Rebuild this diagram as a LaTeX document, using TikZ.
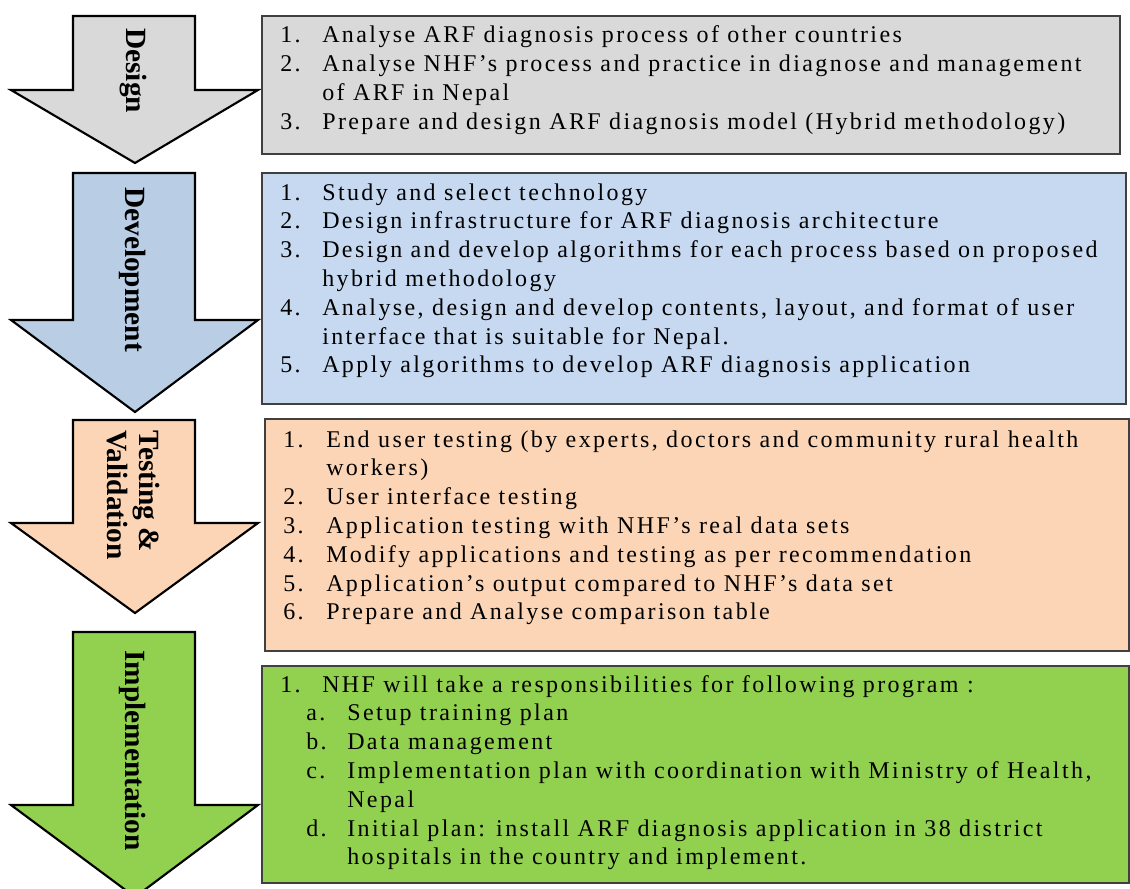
\documentclass[tikz,border=0pt]{standalone}
\usepackage{fontspec}
\setmainfont{Liberation Serif}[LetterSpace=10]
\newfontfamily\lblfont{Liberation Serif}
\usepackage{array}
\definecolor{dgray}{HTML}{D9D9D9}
\definecolor{dbluebox}{HTML}{C6D9F1}
\definecolor{dbluearr}{HTML}{B9CDE5}
\definecolor{dpeach}{HTML}{FBD5B5}
\definecolor{dgreen}{HTML}{92D050}
\newcommand\phasearrow[4]{%
  \draw[arrowshape,fill=#4] (73,#1) -- (195,#1) -- (195,#2) -- (258,#2) -- (135,#3) -- (11,#2) -- (73,#2) -- cycle;}
\begin{document}
\begin{tikzpicture}[x=0.75pt,y=-0.75pt,
  arrowshape/.style={draw=black,line width=1.6pt,line join=miter},
  taskbox/.style={draw=black!75,line width=1pt},
  phaselabel/.style={rotate=-90,anchor=west,align=left,inner sep=0pt,font=\lblfont\bfseries\fontsize{22}{24}\selectfont},
  tasklist/.style={anchor=base west,inner sep=0pt,font=\fontsize{18}{21.6}\selectfont}]
\useasboundingbox (0,0) rectangle (1130,888);
% arrows
\phasearrow{16}{90}{163}{dgray}
\phasearrow{173}{320}{412}{dbluearr}
\phasearrow{420}{523}{613}{dpeach}
\phasearrow{632}{805}{897}{dgreen}
\node[phaselabel] (design) at (133,28) {Design};
\node[phaselabel] (devel) at (133,187) {Development};
\node[phaselabel] (testing) at (133,430) {Testing \&\\Validation};
\node[phaselabel] (impl) at (133,650) {Implementation};
% boxes
\draw[taskbox,fill=dgray] (262,16) rectangle (1120,154);
\draw[taskbox,fill=dbluebox] (262,173) rectangle (1126,404);
\draw[taskbox,fill=dpeach] (265,419) rectangle (1129,651);
\draw[taskbox,fill=dgreen] (262,666) rectangle (1129,883);
\node[tasklist] (designlist) at (280,43) {\begin{tabular}[t]{@{}p{31.5pt}@{}l@{}}
1. & Analyse ARF diagnosis process of other countries\\
2. & Analyse NHF’s process and practice in diagnose and management\\
   & of ARF in Nepal\\
3. & Prepare and design ARF diagnosis model (Hybrid methodology)
\end{tabular}};
\node[tasklist] (devlist) at (280,200) {\begin{tabular}[t]{@{}p{31.5pt}@{}l@{}}
1. & Study and select technology\\
2. & Design infrastructure for ARF diagnosis architecture\\
3. & Design and develop algorithms for each process based on proposed\\
   & hybrid methodology\\
4. & Analyse, design and develop contents, layout, and format of user\\
   & interface that is suitable for Nepal.\\
5. & Apply algorithms to develop ARF diagnosis application
\end{tabular}};
\node[tasklist] (testlist) at (283,447) {\begin{tabular}[t]{@{}p{32.25pt}@{}l@{}}
1. & End user testing (by experts, doctors and community rural health\\
   & workers)\\
2. & User interface testing\\
3. & Application testing with NHF’s real data sets\\
4. & Modify applications and testing as per recommendation\\
5. & Application’s output compared to NHF’s data set\\
6. & Prepare and Analyse comparison table
\end{tabular}};
\node[tasklist] (impllist) at (280,692) {\begin{tabular}[t]{@{}p{19.5pt}@{}p{30.75pt}@{}l@{}}
1. & \multicolumn{2}{@{}l@{}}{\hspace{12pt}NHF will take a responsibilities for following program :}\\
   & a. & Setup training plan\\
   & b. & Data management\\
   & c. & Implementation plan with coordination with Ministry of Health,\\
   &    & Nepal\\
   & d. & Initial plan: install ARF diagnosis application in 38 district\\
   &    & hospitals in the country and implement.
\end{tabular}};
\end{tikzpicture}
\end{document}
